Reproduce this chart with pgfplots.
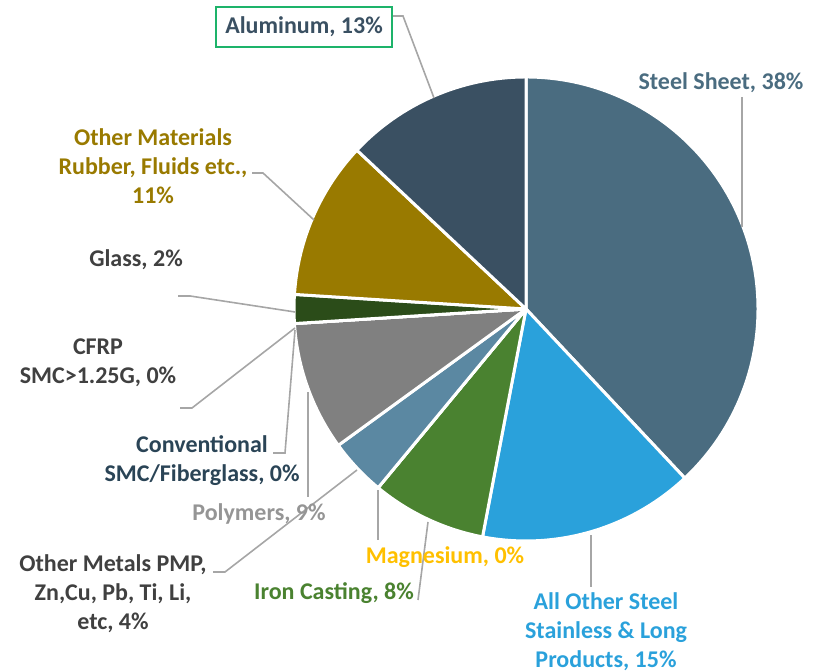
\documentclass[border=0pt]{standalone}
\usepackage{pgfplots}
\pgfplotsset{compat=1.18}
\usepackage{fontspec}
\setmainfont{Carlito}

\definecolor{cSteel}{HTML}{4A6C80}
\definecolor{cOtherSteel}{HTML}{2AA1DB}
\definecolor{cIron}{HTML}{4A8230}
\definecolor{cMg}{HTML}{FFC000}
\definecolor{cOtherMetals}{HTML}{5B88A2}
\definecolor{cPoly}{HTML}{808080}
\definecolor{cPolyText}{HTML}{959595}
\definecolor{cGlass}{HTML}{2B4C19}
\definecolor{cOtherMat}{HTML}{997A00}
\definecolor{cAlu}{HTML}{3A5062}
\definecolor{cConv}{HTML}{2A4456}
\definecolor{cDark}{HTML}{404040}
\definecolor{cLeader}{HTML}{A6A6A6}
\definecolor{cBox}{HTML}{1DB36A}

% pie centre (526,363) in axis units, radius 232 units = 116pt
% #1 cumulative share before the slice (%), #2 share (%), #3 colour
\newcommand{\slice}[3]{%
  \fill[#3, draw=white, line width=1.5pt, line join=round]
    (axis cs:526,363) -- ++({90-3.6*#1}:116pt)
    arc[start angle={90-3.6*#1}, delta angle={-3.6*#2}, radius=116pt] -- cycle;}

\tikzset{
  lbl/.style={font=\bfseries\fontsize{12pt}{14.5pt}\selectfont, align=center, inner sep=0pt},
  leader/.style={draw=cLeader, line width=0.8pt}
}

\begin{document}
\begin{tikzpicture}
\begin{axis}[
    width=412.5pt, height=336pt, scale only axis,
    xmin=0, xmax=825, ymin=0, ymax=672,
    axis lines=none, ticks=none, clip=false
]
% slices, clockwise from 12 o'clock
\slice{0}{38}{cSteel}        % Steel Sheet
\slice{38}{15}{cOtherSteel}  % All Other Steel
\slice{53}{8}{cIron}         % Iron Casting
\slice{61}{0}{cMg}           % Magnesium
\slice{61}{4}{cOtherMetals}  % Other Metals
\slice{65}{9}{cPoly}         % Polymers
\slice{74}{0}{cConv}         % Conventional SMC
\slice{74}{0}{cDark}         % CFRP
\slice{74}{2}{cGlass}        % Glass
\slice{76}{11}{cOtherMat}    % Other Materials
\slice{87}{13}{cAlu}         % Aluminum

% leader lines
\draw[leader] (axis cs:392,656) -- (axis cs:403,656) -- (axis cs:434,574);
\draw[leader] (axis cs:742,575) -- (axis cs:742,445);
\draw[leader] (axis cs:252,499) -- (axis cs:263,499) -- (axis cs:314,452);
\draw[leader] (axis cs:178,376) -- (axis cs:190,376) -- (axis cs:295,360);
\draw[leader] (axis cs:180,264) -- (axis cs:192,264) -- (axis cs:295,344);
\draw[leader] (axis cs:273,219) -- (axis cs:285,219) -- (axis cs:295,342);
\draw[leader] (axis cs:308,175) -- (axis cs:308,280);
\draw[leader] (axis cs:213,100) -- (axis cs:225,100) -- (axis cs:357,202);
\draw[leader] (axis cs:378,132) -- (axis cs:378,182);
\draw[leader] (axis cs:418,72) -- (axis cs:428,150);
\draw[leader] (axis cs:591,85) -- (axis cs:591,137);

% labels
\node[lbl, text=cAlu, draw=cBox, line width=0.8pt, fill=white,
      minimum width=88pt, minimum height=20pt] at (axis cs:304,645) {Aluminum, 13\%};
\node[lbl, text=cSteel] at (axis cs:721,589) {Steel Sheet, 38\%};
\node[lbl, text=cOtherMat] at (axis cs:153,506) {Other Materials\\Rubber, Fluids etc.,\\11\%};
\node[lbl, text=cDark] at (axis cs:136,412) {Glass, 2\%};
\node[lbl, text=cDark] at (axis cs:98,309) {CFRP\\SMC>1.25G, 0\%};
\node[lbl, text=cConv] at (axis cs:202,211) {Conventional\\SMC/Fiberglass, 0\%};
\node[lbl, text=cPolyText] at (axis cs:259,158) {Polymers, 9\%};
\node[lbl, text=cDark] at (axis cs:113,78) {Other Metals PMP,\\Zn,Cu, Pb, Ti, Li,\\etc, 4\%};
\node[lbl, text=cIron] at (axis cs:334,79) {Iron Casting, 8\%};
\node[lbl, text=cMg] at (axis cs:445,115) {Magnesium, 0\%};
\node[lbl, text=cOtherSteel] at (axis cs:606,40) {All Other Steel\\Stainless \& Long\\Products, 15\%};
\end{axis}
\pgfresetboundingbox
\path[use as bounding box] (current axis.south west) rectangle (current axis.north east);
\end{tikzpicture}
\end{document}
